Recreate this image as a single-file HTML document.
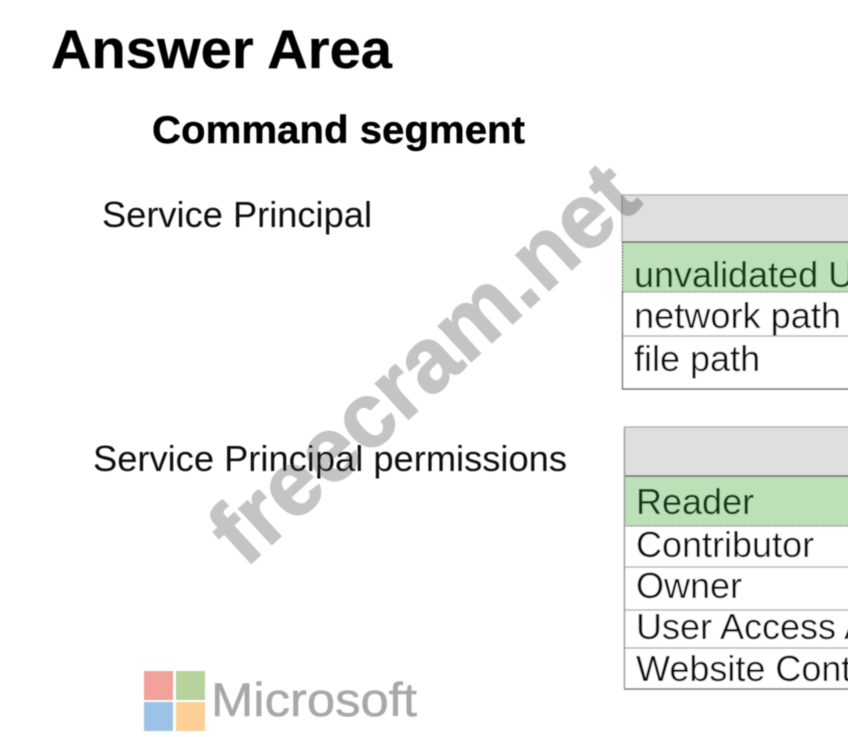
<!DOCTYPE html>
<html>
<head>
<meta charset="utf-8">
<style>
html,body{margin:0;padding:0;background:#fff;width:848px;height:737px;overflow:hidden}
svg{display:block}
text{font-family:"Liberation Sans",Arial,sans-serif}
.t{font-size:36px;fill:#111}
.g{fill:#0d3a16}
</style>
</head>
<body>
<svg xmlns="http://www.w3.org/2000/svg" width="848" height="737" viewBox="0 0 848 737">
<defs><filter id="b" x="-5%" y="-5%" width="110%" height="110%"><feGaussianBlur stdDeviation="0.5"/></filter></defs>
<g filter="url(#b)">
<!-- Headings -->
<text x="51" y="68" font-size="54.5" font-weight="bold" fill="#000" stroke="#000" stroke-width="0.3" textLength="341" lengthAdjust="spacingAndGlyphs">Answer Area</text>
<text x="152" y="143" font-size="39" font-weight="bold" fill="#000" stroke="#000" stroke-width="0.4" textLength="373" lengthAdjust="spacingAndGlyphs">Command segment</text>
<text class="t" x="102" y="227" textLength="270" lengthAdjust="spacingAndGlyphs">Service Principal</text>
<text class="t" x="93" y="471" textLength="474" lengthAdjust="spacingAndGlyphs">Service Principal permissions</text>

<!-- Table 1 -->
<rect x="622" y="195" width="230" height="47" fill="#dfdfdf"/>
<rect x="622" y="242" width="230" height="50" fill="#bde0b9"/>
<rect x="622" y="292" width="230" height="97" fill="#fff"/>
<path d="M622 195H852" stroke="#b5b5b5" stroke-width="1.5" fill="none"/>
<path d="M622 242H852" stroke="#5c6e5c" stroke-width="1.5" fill="none"/>
<path d="M622 292H852" stroke="#71806f" stroke-width="1.2" stroke-dasharray="2 1" fill="none"/>
<path d="M622 336H852" stroke="#a8a8a8" stroke-width="1.2" fill="none"/>
<path d="M622 389H852" stroke="#6e6e6e" stroke-width="1.5" fill="none"/>
<path d="M622 195V242" stroke="#b5b5b5" stroke-width="1.5" fill="none"/>
<path d="M622.5 242V292" stroke="#5c6e5c" stroke-width="1.2" stroke-dasharray="2 1" fill="none"/>
<path d="M622.5 292V389" stroke="#7a7a7a" stroke-width="1.5" fill="none"/>
<text class="t g" x="634" y="287">unvalidated URI</text>
<text class="t" x="634" y="328" textLength="207" lengthAdjust="spacingAndGlyphs">network path</text>
<text class="t" x="634" y="371">file path</text>

<!-- Table 2 -->
<rect x="624" y="427" width="230" height="49" fill="#dfdfdf"/>
<rect x="624" y="476" width="230" height="50" fill="#bde0b9"/>
<rect x="624" y="526" width="230" height="163" fill="#fff"/>
<path d="M624 427H854" stroke="#b5b5b5" stroke-width="1.5" fill="none"/>
<path d="M624 476H854" stroke="#5c6e5c" stroke-width="1.5" fill="none"/>
<path d="M624 526H854" stroke="#71806f" stroke-width="1.2" stroke-dasharray="2 1" fill="none"/>
<path d="M624 567H854" stroke="#a8a8a8" stroke-width="1.2" fill="none"/>
<path d="M624 610H854" stroke="#a8a8a8" stroke-width="1.2" fill="none"/>
<path d="M624 648H854" stroke="#a8a8a8" stroke-width="1.2" fill="none"/>
<path d="M624 689H854" stroke="#7a7a7a" stroke-width="1.5" fill="none"/>
<path d="M624.5 427V689" stroke="#9a9a9a" stroke-width="1.5" fill="none"/>
<text class="t g" x="636" y="514">Reader</text>
<text class="t" x="636" y="557">Contributor</text>
<text class="t" x="636" y="598">Owner</text>
<text class="t" x="636" y="639">User Access Administrator</text>
<text class="t" x="636" y="681">Website Contributor</text>

<!-- Microsoft logo -->
<rect x="144" y="671" width="29" height="29" fill="#f2a29a"/>
<rect x="176" y="671" width="29" height="29" fill="#b5d39a"/>
<rect x="144" y="702" width="29" height="29" fill="#9cc3e6"/>
<rect x="176" y="702" width="29" height="29" fill="#fdcf94"/>
<text x="211" y="716" font-size="47" fill="#a8a8a8" stroke="#a8a8a8" stroke-width="0.5" textLength="206" lengthAdjust="spacingAndGlyphs">Microsoft</text>

<!-- Watermark -->
<text transform="translate(245 569) rotate(-42.5)" font-size="92" font-weight="bold" fill="#c4c4c4" stroke="#c4c4c4" stroke-width="1.5" style="mix-blend-mode:multiply" textLength="541" lengthAdjust="spacingAndGlyphs">freecram.net</text>
</g>
</svg>
</body>
</html>
